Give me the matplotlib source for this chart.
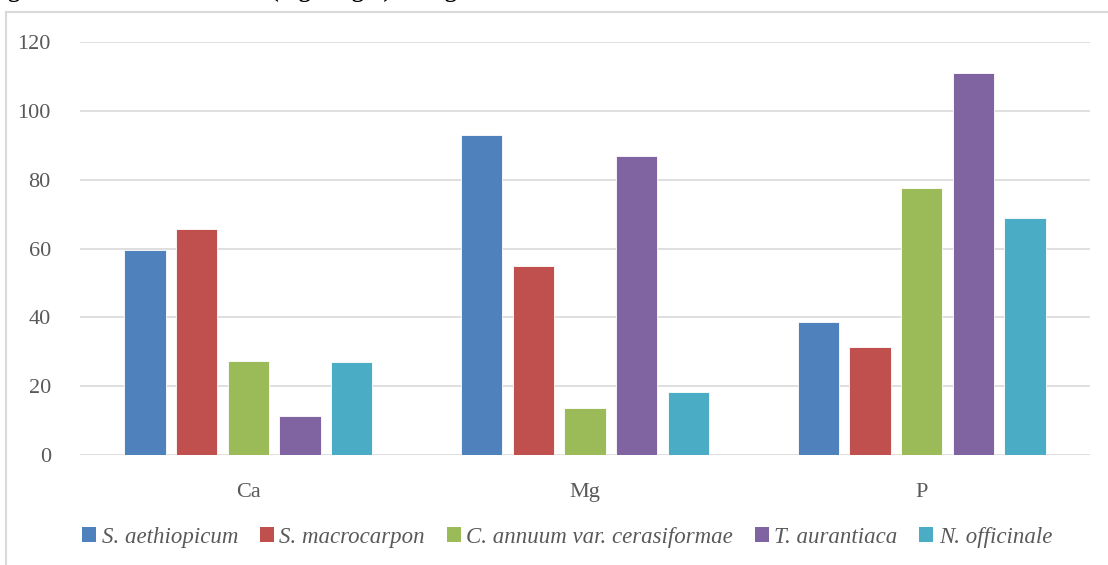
import matplotlib
matplotlib.use("Agg")
import matplotlib.pyplot as plt
from matplotlib.lines import Line2D
from matplotlib.patches import Patch
import numpy as np

categories = ["Ca", "Mg", "P"]
series_names = ["S. aethiopicum", "S. macrocarpon", "C. annuum var. cerasiformae",
                "T. aurantiaca", "N. officinale"]
s_aethiopicum = [59.5, 92.9, 38.5]
s_macrocarpon = [65.8, 55.0, 31.4]
c_annuum = [27.3, 13.6, 77.5]
t_aurantiaca = [11.3, 86.8, 111.0]
n_officinale = [27.0, 18.4, 68.8]
yticks = [0, 20, 40, 60, 80, 100, 120]
title = "Figure 4.4: Mineral content (mg 100g\u207b\u00b9) of vegetables"

colors = ["#4F81BD", "#C0504D", "#9BBB59", "#8064A2", "#4BACC6"]
series = [s_aethiopicum, s_macrocarpon, c_annuum, t_aurantiaca, n_officinale]

plt.rcParams['font.family'] = ['Liberation Serif', 'DejaVu Serif']

fig = plt.figure(figsize=(11.08, 5.65), dpi=100)
ax = fig.add_axes([80/1108, 1-455/565, 1010/1108, 413/565])

x = np.arange(len(categories))
step = 0.1535
width = 0.122
for i, (vals, c) in enumerate(zip(series, colors)):
    ax.bar(x + (i - 2) * step, vals, width=width, color=c, edgecolor='white',
           linewidth=0.6, zorder=3)

ax.set_xlim(-0.5, 2.5)
ax.set_ylim(0, 120)
ax.set_yticks(yticks)
ax.set_yticklabels([str(t) for t in yticks])
ax.set_xticks(x)
ax.set_xticklabels(categories)
ax.grid(axis='y', color='#D9D9D9', linewidth=1.2, zorder=0)
for s in ax.spines.values():
    s.set_visible(False)
ax.tick_params(axis='both', length=0, colors='#595959', labelsize=16)
ax.tick_params(axis='y', pad=21)
ax.tick_params(axis='x', pad=20)

handles = [Patch(facecolor=c, edgecolor='none') for c in colors]
leg = fig.legend(handles, series_names, loc='center', bbox_to_anchor=(0.512, 0.049),
                 ncol=5, frameon=False, handlelength=0.6, handleheight=0.6,
                 handletextpad=0.25, columnspacing=0.95,
                 prop={'family': 'Liberation Serif', 'style': 'italic', 'size': 16.5})
for t in leg.get_texts():
    t.set_color('#595959')

# chart frame (left and top borders)
fig.add_artist(Line2D([6/1108, 6/1108], [0, 1-12/565], color='#D9D9D9', linewidth=1.5,
                      transform=fig.transFigure))
fig.add_artist(Line2D([6/1108, 1], [1-12/565, 1-12/565], color='#D9D9D9', linewidth=1.5,
                      transform=fig.transFigure))

# title, clipped at the top edge as in the reference
fig.text(-0.012, 1+3/565, title, fontsize=17, fontweight='bold', va='baseline',
         ha='left', color='black')

fig.savefig("out.png", dpi=100)
